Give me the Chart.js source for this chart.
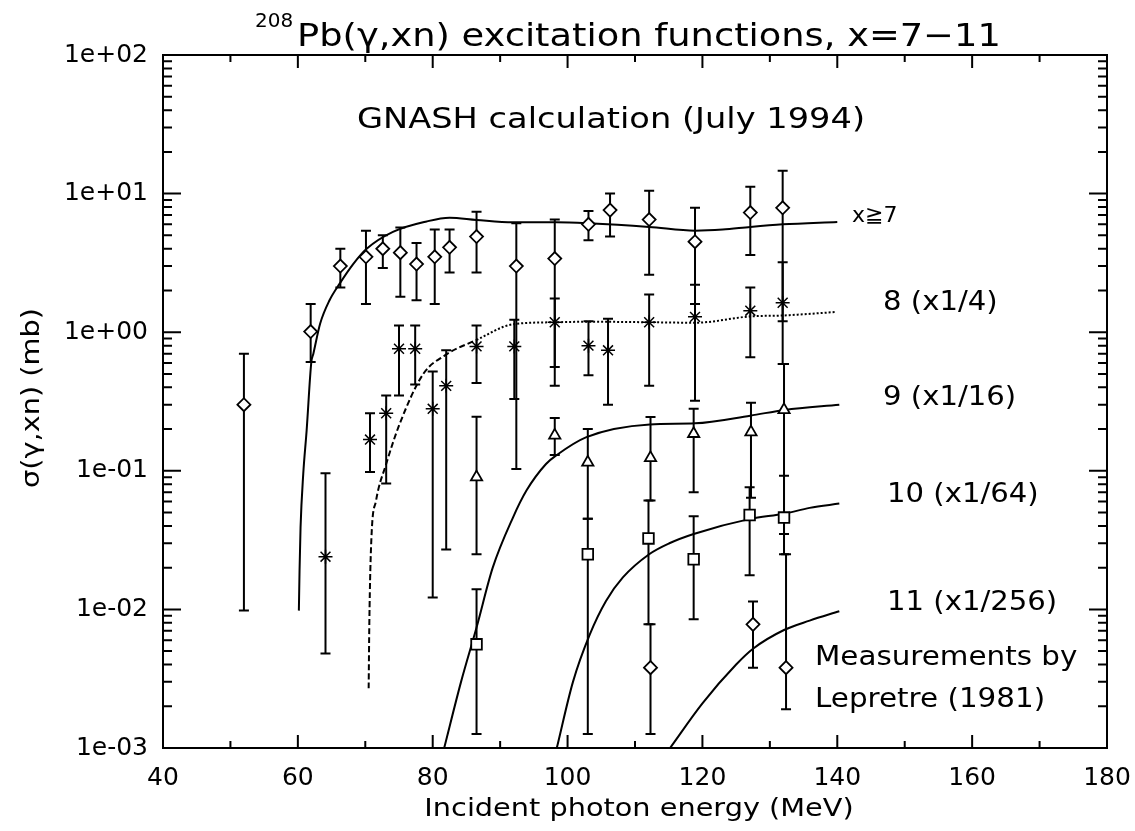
<!DOCTYPE html>
<html>
<head>
<meta charset="utf-8">
<script src="https://cdn.jsdelivr.net/npm/chart.js@4.4.1/dist/chart.umd.min.js"></script>
<style>
  body { margin: 0; background: #fff; }
  #wrap { width: 1135px; height: 831px; position: relative; }
</style>
</head>
<body>
<div id="wrap"><canvas id="chart"></canvas></div>
<script>
// measured points (Lepretre 1981), sigma in mb, already scaled
const energy7 = [52.0, 61.9, 66.3, 70.1, 72.6, 75.2, 77.6, 80.3, 82.5, 86.5, 92.4, 98.1, 103.1, 106.3, 112.1, 118.9, 127.1, 131.9];
const sigma7 = [0.30, 1.01, 3.0, 3.5, 4.0, 3.75, 3.1, 3.5, 4.1, 4.9, 3.0, 3.4, 6.0, 7.6, 6.5, 4.5, 7.3, 7.9];
const hi7 = [0.70, 1.6, 4.0, 5.4, 5.0, 5.7, 4.4, 5.5, 5.5, 7.4, 6.1, 6.5, 7.5, 10.0, 10.5, 7.9, 11.2, 14.6];
const lo7 = [0.0098, 0.61, 2.1, 1.6, 2.9, 1.8, 1.7, 1.6, 2.7, 2.7, 0.103, 0.41, 4.6, 4.9, 2.6, 1.6, 3.6, 1.2];

const energy8 = [64.1, 70.7, 73.1, 75.0, 77.4, 80.0, 82.0, 86.5, 92.1, 98.1, 103.1, 106.0, 112.1, 118.9, 127.1, 131.9];
const sigma8 = [0.024, 0.168, 0.26, 0.76, 0.76, 0.28, 0.41, 0.79, 0.79, 1.18, 0.80, 0.74, 1.18, 1.29, 1.43, 1.63];
const hi8 = [0.096, 0.26, 0.35, 1.12, 1.12, 0.52, 0.74, 1.12, 1.23, 1.75, 1.2, 1.25, 1.87, 2.2, 2.1, 3.2];
const lo8 = [0.0048, 0.098, 0.081, 0.35, 0.42, 0.0122, 0.027, 0.43, 0.33, 0.56, 0.49, 0.30, 0.41, 0.32, 0.66, 0.59];

const energy9 = [86.5, 98.1, 103.0, 112.3, 118.7, 127.2, 132.1];
const sigma9 = [0.090, 0.18, 0.115, 0.124, 0.185, 0.19, 0.275];
const hi9 = [0.245, 0.24, 0.20, 0.244, 0.28, 0.31, 0.59];
const lo9 = [0.025, 0.13, 0.045, 0.061, 0.07, 0.064, 0.035];

const energy10 = [86.5, 103.0, 112.0, 118.7, 127.0, 132.1];
const sigma10 = [0.0056, 0.025, 0.0325, 0.023, 0.048, 0.046];
const hi10 = [0.014, 0.045, 0.061, 0.047, 0.076, 0.092];
const lo10 = [0.00126, 0.00126, 0.0078, 0.0085, 0.0176, 0.025];

const energy11 = [112.3, 127.5, 132.4];
const sigma11 = [0.0038, 0.0078, 0.0038];
const hi11 = [0.0078, 0.0114, 0.025];
const lo11 = [0.00126, 0.0038, 0.0019];

// GNASH curves
const calcE7 = [60.15, 60.25, 60.4, 60.8, 61.3, 62.0, 62.3, 63.3, 64.7, 66.2, 68.2, 70.2, 74.1, 79.1, 82.5, 86.5, 91.9, 98.3, 103.1, 112.1, 118.9, 123.0, 127.1, 131.9, 140.0];
const calcS7 = [0.0098, 0.019, 0.039, 0.095, 0.195, 0.61, 0.70, 1.15, 1.70, 2.24, 3.1, 4.0, 5.3, 6.3, 6.7, 6.45, 6.2, 6.2, 6.1, 5.75, 5.4, 5.5, 5.75, 6.0, 6.25];
const calcE8 = [70.5, 70.6, 70.9, 71.6, 73.1, 75.1, 78.6, 81.8, 86.5, 91.9, 98.3, 103.1, 112.1, 118.9, 127.1, 131.9, 139.9];
const calcS8 = [0.0027, 0.008, 0.032, 0.061, 0.112, 0.218, 0.50, 0.68, 0.88, 1.14, 1.18, 1.19, 1.18, 1.17, 1.3, 1.32, 1.4];
const calcE9 = [81.7, 84.2, 86.5, 88.9, 91.9, 93.9, 96.8, 98.3, 102.8, 112.2, 118.9, 127.1, 132.2, 140.3];
const calcS9 = [0.001, 0.003, 0.0074, 0.02, 0.046, 0.072, 0.112, 0.129, 0.175, 0.216, 0.22, 0.25, 0.275, 0.30];
const calcE10 = [98.4, 100.8, 103.3, 105.7, 108.2, 112.1, 115.1, 118.7, 127.1, 132.1, 135.9, 140.3];
const calcS10 = [0.001, 0.003, 0.0066, 0.0115, 0.017, 0.025, 0.030, 0.035, 0.045, 0.049, 0.054, 0.058];
const calcE11 = [115.2, 120.0, 125.0, 127.5, 132.1, 135.9, 140.3];
const calcS11 = [0.001, 0.0021, 0.004, 0.0052, 0.0071, 0.0083, 0.0097];

const xTicks = [40, 60, 80, 100, 120, 140, 160, 180];
const yTicks = [1e-3, 1e-2, 1e-1, 1, 10, 100];

const FONT = '"DejaVu Sans", sans-serif';
const pts = (xs, ys) => xs.map((x, i) => ({ x: x, y: ys[i] }));

const errorSets = [
  [energy7, lo7, hi7], [energy8, lo8, hi8], [energy9, lo9, hi9],
  [energy10, lo10, hi10], [energy11, lo11, hi11]
];

const fmtExp = (v) => {
  const e = Math.round(Math.log10(v));
  return '1e' + (e < 0 ? '-' : '+') + String(Math.abs(e)).padStart(2, '0');
};

const errorBars = {
  id: 'errorBars',
  beforeDatasetsDraw(chart) {
    const { ctx, chartArea, scales: { x, y } } = chart;
    ctx.save();
    ctx.beginPath();
    ctx.rect(chartArea.left, chartArea.top, chartArea.right - chartArea.left, chartArea.bottom - chartArea.top);
    ctx.clip();
    ctx.strokeStyle = '#000';
    ctx.lineWidth = 2;
    errorSets.forEach(([es, lo, hi]) => {
      es.forEach((e, i) => {
        const px = x.getPixelForValue(e);
        const yl = y.getPixelForValue(lo[i]);
        const yh = y.getPixelForValue(hi[i]);
        ctx.beginPath();
        ctx.moveTo(px, yl); ctx.lineTo(px, yh);
        ctx.moveTo(px - 5, yl); ctx.lineTo(px + 5, yl);
        ctx.moveTo(px - 5, yh); ctx.lineTo(px + 5, yh);
        ctx.stroke();
      });
    });
    ctx.restore();
  }
};

const frame = {
  id: 'frame',
  afterDraw(chart) {
    const { ctx, chartArea: a, scales: { x, y } } = chart;
    ctx.save();
    ctx.strokeStyle = '#000';
    ctx.lineWidth = 2;
    ctx.strokeRect(a.left, a.top, a.right - a.left, a.bottom - a.top);
    ctx.beginPath();
    for (let v = 40; v <= 180; v += 10) {
      const px = x.getPixelForValue(v);
      const len = v % 20 === 0 ? 13 : 7;
      ctx.moveTo(px, a.bottom); ctx.lineTo(px, a.bottom - len);
      ctx.moveTo(px, a.top); ctx.lineTo(px, a.top + len);
    }
    for (let e = -3; e <= 2; e++) {
      for (let m = 1; m <= 9; m++) {
        const v = m * Math.pow(10, e);
        if (v > 100) break;
        const py = y.getPixelForValue(v);
        const len = m === 1 ? 18 : 9;
        ctx.moveTo(a.left, py); ctx.lineTo(a.left + len, py);
        ctx.moveTo(a.right, py); ctx.lineTo(a.right - len, py);
      }
    }
    ctx.stroke();

    ctx.fillStyle = '#000';
    // the original plot font is wider than DejaVu, so stretch a little
    const text = (s, px, py, size, sx, align, base) => {
      ctx.save();
      ctx.font = size + 'px ' + FONT;
      ctx.textAlign = align || 'left';
      ctx.textBaseline = base || 'middle';
      ctx.translate(px, py);
      ctx.scale(sx, 1);
      ctx.fillText(s, 0, 0);
      ctx.restore();
    };
    text('208', 255, 27, 20, 1, 'left', 'alphabetic');
    text('Pb(\u03b3,xn) excitation functions, x=7\u221211', 297, 46, 32, 1.15, 'left', 'alphabetic');
    text('GNASH calculation (July 1994)', 357, 128, 29, 1.16, 'left', 'alphabetic');
    text('x\u22677', 852, 216, 22, 1);
    text('8 (x1/4)', 883, 303, 26, 1.12);
    text('9 (x1/16)', 883, 398, 26, 1.12);
    text('10 (x1/64)', 887, 495, 26, 1.12);
    text('11 (x1/256)', 887, 603, 26, 1.12);
    text('Measurements by', 815, 658, 26, 1.13);
    text('Lepretre (1981)', 815, 700, 26, 1.13);
    text('Incident photon energy (MeV)', 639, 809, 25, 1.15, 'center');
    ctx.translate(32, 398);
    ctx.rotate(-Math.PI / 2);
    text('\u03c3(\u03b3,xn) (mb)', 0, 0, 25, 1.15, 'center');
    ctx.restore();
  }
};

const marker = (label, data, style, radius, bw) => ({
  label: label,
  data: data,
  showLine: false,
  pointStyle: style,
  pointRadius: radius,
  pointBackgroundColor: '#fff',
  pointBorderColor: '#000',
  pointBorderWidth: bw || 1.8
});

const curve = (label, data, dashFn) => ({
  label: label,
  data: data,
  showLine: true,
  pointRadius: 0,
  borderColor: '#000',
  borderWidth: 2,
  segment: dashFn ? { borderDash: dashFn } : undefined,
  cubicInterpolationMode: 'monotone',
  fill: false
});

Chart.defaults.font.family = FONT;
Chart.defaults.color = '#000';

new Chart(document.getElementById('chart'), {
  type: 'scatter',
  data: {
    datasets: [
      marker('x>=7 data', pts(energy7, sigma7), 'rectRot', 6.5),
      marker('8 data', pts(energy8, sigma8), 'star', 7, 1.5),
      marker('9 data', pts(energy9, sigma9), 'triangle', 6.5),
      marker('10 data', pts(energy10, sigma10), 'rect', 7.5),
      marker('11 data', pts(energy11, sigma11), 'rectRot', 6.5),
      curve('x>=7', pts(calcE7, calcS7)),
      curve('8', pts(calcE8, calcS8), (c) => (c.p0.parsed.x < 86 ? [6, 3] : [2, 2])),
      curve('9', pts(calcE9, calcS9)),
      curve('10', pts(calcE10, calcS10)),
      curve('11', pts(calcE11, calcS11))
    ]
  },
  options: {
    responsive: true,
    maintainAspectRatio: false,
    animation: false,
    clip: true,
    layout: { padding: { top: 55, right: 28, bottom: 0, left: 0 } },
    plugins: { legend: { display: false }, tooltip: { enabled: false } },
    scales: {
      x: {
        type: 'linear',
        min: 40,
        max: 180,
        afterBuildTicks: (axis) => { axis.ticks = xTicks.map((v) => ({ value: v })); },
        afterFit: (axis) => { axis.height = 83; axis.paddingLeft = 0; axis.paddingRight = 0; },
        grid: { display: false, drawTicks: false },
        border: { display: false },
        ticks: { font: { size: 25 }, padding: 15, autoSkip: false, maxRotation: 0 }
      },
      y: {
        type: 'logarithmic',
        min: 1e-3,
        max: 100,
        afterBuildTicks: (axis) => { axis.ticks = yTicks.map((v) => ({ value: v })); },
        afterFit: (axis) => { axis.width = 163; axis.paddingTop = 0; axis.paddingBottom = 0; },
        grid: { display: false, drawTicks: false },
        border: { display: false },
        ticks: { font: { size: 25 }, padding: 15, autoSkip: false, callback: (v) => fmtExp(v) }
      }
    }
  },
  plugins: [errorBars, frame]
});
</script>
</body>
</html>
